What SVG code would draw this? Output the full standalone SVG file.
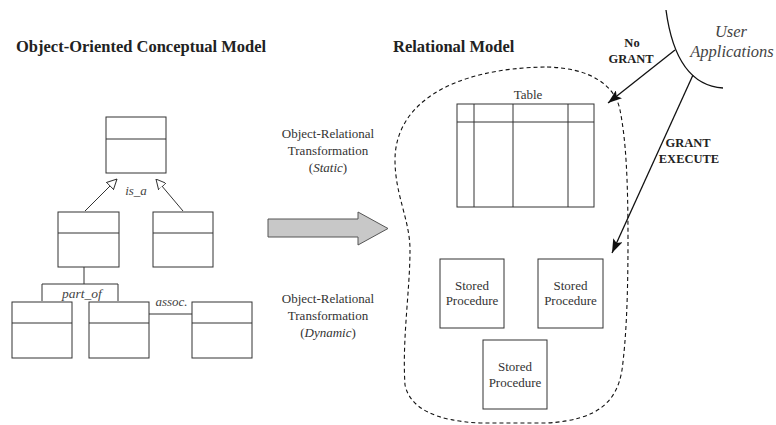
<svg xmlns="http://www.w3.org/2000/svg" width="776" height="425" viewBox="0 0 776 425">
<defs>
<style>
.box{fill:#fff;stroke:#333;stroke-width:1}
.ln{fill:none;stroke:#333;stroke-width:1}
.hd{font-family:"Liberation Serif","Times New Roman",serif;font-weight:bold;font-size:16.5px;fill:#222}
.tx{font-family:"Liberation Serif","Times New Roman",serif;font-size:13px;fill:#333}
.it{font-family:"Liberation Serif","Times New Roman",serif;font-style:italic;font-size:13px;fill:#444}
.ua{font-family:"Liberation Serif","Times New Roman",serif;font-style:italic;font-size:16.5px;fill:#444}
.bd{font-family:"Liberation Serif","Times New Roman",serif;font-weight:bold;font-size:12.5px;fill:#222}
</style>
<marker id="tri" viewBox="0 0 10 10" refX="10" refY="5" markerWidth="10" markerHeight="10" markerUnits="userSpaceOnUse" orient="auto">
<path d="M0,0 L10,5 L0,10 Z" fill="#fff" stroke="#333" stroke-width="1"/>
</marker>
<marker id="fill" viewBox="0 0 14 10" refX="14" refY="5" markerWidth="14" markerHeight="10" markerUnits="userSpaceOnUse" orient="auto">
<path d="M0,0 L14,5 L0,10 L3,5 Z" fill="#111"/>
</marker>
</defs>

<text class="hd" x="16" y="52">Object-Oriented Conceptual Model</text>
<text class="hd" x="393" y="52">Relational Model</text>

<g id="class-top"><rect class="box" x="106" y="117" width="60" height="56"/><line class="ln" x1="106" y1="139" x2="166" y2="139"/></g>
<g id="class-mid-left"><rect class="box" x="58" y="212" width="61" height="55"/><line class="ln" x1="58" y1="233" x2="119" y2="233"/></g>
<g id="class-mid-right"><rect class="box" x="153" y="212" width="60" height="55"/><line class="ln" x1="153" y1="233" x2="213" y2="233"/></g>
<g id="class-bot-1"><rect class="box" x="12" y="302" width="60" height="56"/><line class="ln" x1="12" y1="323" x2="72" y2="323"/></g>
<g id="class-bot-2"><rect class="box" x="89" y="302" width="60" height="56"/><line class="ln" x1="89" y1="323" x2="149" y2="323"/></g>
<g id="class-bot-3"><rect class="box" x="192" y="302" width="60" height="56"/><line class="ln" x1="192" y1="323" x2="252" y2="323"/></g>

<g id="transform-arrow">
<path d="M268,219 L358,219 L358,212 L388,228.5 L358,245 L358,237 L268,237 Z" fill="#c8c8c8" stroke="#555" stroke-width="1"/>
</g>

<g id="static-label" text-anchor="middle">
<text class="tx" x="328" y="138">Object-Relational</text>
<text class="tx" x="328" y="155">Transformation</text>
<text class="tx" x="328" y="172">(<tspan font-style="italic">Static</tspan>)</text>
</g>
<g id="dynamic-label" text-anchor="middle">
<text class="tx" x="328" y="303">Object-Relational</text>
<text class="tx" x="328" y="320">Transformation</text>
<text class="tx" x="328" y="337">(<tspan font-style="italic">Dynamic</tspan>)</text>
</g>

<g id="db-boundary">
<path d="M547,67 C590,68 615,85 620,110 C626,140 628,180 628,240 C628,300 626,340 622,370 C617,400 600,420 547,423 L480,423 C435,421 410,408 405,385 C402,340 410,290 410,250 C410,220 395,195 395,160 C395,105 450,68 547,67 Z" fill="none" stroke="#111" stroke-width="1.1" stroke-dasharray="4,3"/>
</g>

<g id="table">
<text class="tx" x="528" y="99" text-anchor="middle">Table</text>
<rect class="box" x="457" y="104" width="137" height="103"/>
<line class="ln" x1="457" y1="122" x2="594" y2="122"/>
<line class="ln" x1="474" y1="104" x2="474" y2="207"/>
<line class="ln" x1="513" y1="104" x2="513" y2="207"/>
<line class="ln" x1="568" y1="104" x2="568" y2="207"/>
</g>

<g id="sp-1"><rect class="box" x="440" y="259" width="64" height="69"/>
<text class="tx" x="472" y="290" text-anchor="middle">Stored</text><text class="tx" x="472" y="305" text-anchor="middle">Procedure</text></g>
<g id="sp-2"><rect class="box" x="538" y="259" width="65" height="69"/>
<text class="tx" x="570.5" y="290" text-anchor="middle">Stored</text><text class="tx" x="570.5" y="305" text-anchor="middle">Procedure</text></g>
<g id="sp-3"><rect class="box" x="483" y="340" width="64" height="69"/>
<text class="tx" x="515" y="371" text-anchor="middle">Stored</text><text class="tx" x="515" y="387" text-anchor="middle">Procedure</text></g>

<g id="user-apps">
<path d="M666,10 Q676,85 723,88" fill="none" stroke="#111" stroke-width="1.3"/>
<text class="ua" x="731" y="37" text-anchor="middle">User</text>
<text class="ua" x="732" y="57" text-anchor="middle">Applications</text>
</g>

<g id="connectors">
<line class="ln" x1="85" y1="211" x2="117" y2="179" marker-end="url(#tri)"/>
<line class="ln" x1="183" y1="211" x2="156" y2="179" marker-end="url(#tri)"/>
<text class="it" x="136" y="195" text-anchor="middle">is_a</text>
<path class="ln" d="M84,267 V284 M42,301 V284 H118 V301"/>
<text class="it" x="82" y="298" text-anchor="middle" style="font-size:13.5px">part_of</text>
<line class="ln" x1="149" y1="314" x2="192" y2="314"/>
<text class="it" x="171.5" y="306" text-anchor="middle">assoc.</text>
<line x1="675" y1="50" x2="608" y2="103" stroke="#111" stroke-width="1.3" marker-end="url(#fill)"/>
<text class="bd" x="632" y="47" text-anchor="middle">No</text>
<text class="bd" x="631" y="63" text-anchor="middle">GRANT</text>
<line x1="693" y1="75" x2="612" y2="253" stroke="#111" stroke-width="1.3" marker-end="url(#fill)"/>
<text class="bd" x="688" y="147" text-anchor="middle">GRANT</text>
<text class="bd" x="689" y="163" text-anchor="middle">EXECUTE</text>
</g>
</svg>
